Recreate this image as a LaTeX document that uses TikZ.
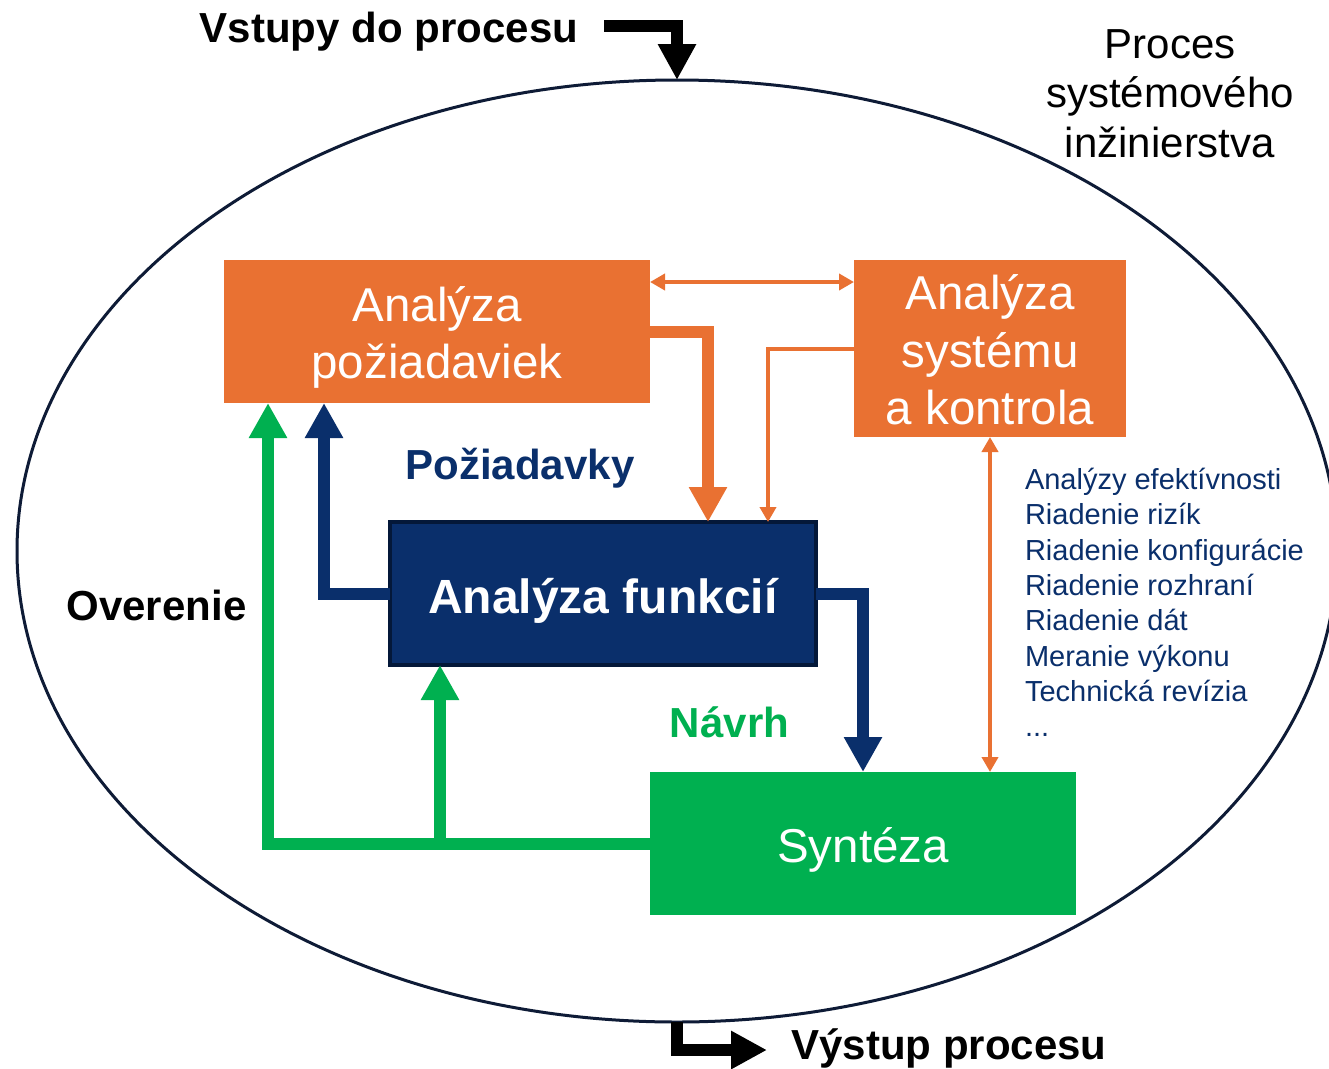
\documentclass[tikz,border=0pt]{standalone}
\usepackage{fontspec}
\setmainfont{Liberation Sans}
\usetikzlibrary{arrows.meta,shapes.geometric,calc}
\definecolor{orng}{HTML}{E97132}
\definecolor{grn}{HTML}{00B050}
\definecolor{navy}{HTML}{0A2F6B}
\definecolor{navyedge}{HTML}{041839}
\definecolor{ringc}{HTML}{0E1B36}
\tikzset{
  boxnode/.style={rectangle, inner sep=0pt, outer sep=0pt},
  boxtxt/.style={inner sep=0pt, outer sep=0pt, align=center, text=white,
    font=\fontsize{47.5}{57.5}\selectfont},
  lbl/.style={inner sep=0pt, outer sep=0pt, font=\fontsize{42}{50}\selectfont\bfseries},
  plain/.style={inner sep=0pt, outer sep=0pt, font=\fontsize{42}{50}\selectfont},
  listtxt/.style={inner sep=0pt, outer sep=0pt, text=navy, font=\fontsize{29}{35}\selectfont, anchor=base west},
  thickarr/.style={line width=12pt, -{Triangle[width=36pt,length=35pt]}},
  blackarr/.style={line width=12pt, black, -{Triangle[width=36pt,length=36pt]}},
  thinarr/.style={line width=4pt, orng, -{Triangle[width=16pt,length=15pt]}},
  dblarr/.style={line width=4pt, orng, {Triangle[width=16pt,length=15pt]}-{Triangle[width=16pt,length=15pt]}}
}
\begin{document}
\begin{tikzpicture}[x=1pt,y=-1pt]
\useasboundingbox (0,0) rectangle (1329,1068);
\fill[white] (0,0) rectangle (1329,1068);

% process ellipse
\node[ellipse, draw=ringc, line width=3pt, minimum width=1320pt, minimum height=942pt,
      inner sep=0pt, outer sep=0pt] (proc) at (677,551) {};

% boxes
\node[boxnode, fill=orng, minimum width=426pt, minimum height=143pt] (req) at (437,331.5) {};
\node[boxnode, fill=orng, minimum width=272pt, minimum height=177pt] (sys) at (990,348.5) {};
\node[boxnode, fill=navy, draw=navyedge, line width=4pt, minimum width=426pt, minimum height=143pt] (fun) at (603,593.5) {};
\node[boxnode, fill=grn, minimum width=426pt, minimum height=143pt] (syn) at (863,843.5) {};

\node[boxtxt] (reqT) at ([yshift=-6pt]req.center) {Analýza\\požiadaviek};
\node[boxtxt] (sysT) at ([yshift=-1.5pt]sys.center) {Analýza\\systému\\a kontrola};
\node[boxtxt, font=\fontsize{48}{57}\selectfont\bfseries] (funT) at ([yshift=-7pt]fun.center) {Analýza funkcií};
\node[boxtxt] (synT) at ([yshift=-6pt]syn.center) {Syntéza};

% input / output
\coordinate (inS) at (604,26);
\coordinate (outE) at (767,1050);
\draw[blackarr] (inS) -| (proc.north);
\draw[blackarr] (proc.south) |- (outE);

% orange connectors
\coordinate (dA) at ([yshift=49.5pt]req.east);
\draw[dblarr] (dA) -- (dA -| sys.west);
\draw[thickarr, orng] (req.east) -| ([xshift=105pt]fun.north);
\draw[thinarr] (sys.west) -| ([xshift=165pt]fun.north);
\draw[dblarr] (sys.south) -- (sys.south |- syn.north);

% navy connectors
\draw[thickarr, navy] (fun.west) -| ([xshift=-113pt]req.south);
\draw[thickarr, navy] (fun.east) -| (syn.north);

% green connectors
\draw[thickarr, grn] (syn.west) -| ([xshift=-169pt]req.south);
\coordinate (fS) at ([xshift=-163pt]fun.south);
\draw[thickarr, grn] (fS |- syn.west) -- (fS);

% labels
\node[lbl, anchor=base] (inL) at (389,42) {Vstupy do procesu};
\node[lbl, anchor=base] (outL) at (949,1059) {Výstup procesu};
\node[lbl, anchor=base] (ovL) at (156.5,620) {Overenie};
\node[lbl, anchor=base, text=navy] (pozL) at (520,479) {Požiadavky};
\node[lbl, anchor=base, text=grn] (navL) at (729.5,737) {Návrh};

\node[plain, anchor=base] (t1) at (1170,58) {Proces};
\node[plain, anchor=base] (t2) at (1170,107.5) {systémového};
\node[plain, anchor=base] (t3) at (1170,157) {inžinierstva};

\node[listtxt] (l1) at (1025,489.5) {Analýzy efektívnosti};
\node[listtxt] (l2) at (1025,524.8) {Riadenie rizík};
\node[listtxt] (l3) at (1025,560.1) {Riadenie konfigurácie};
\node[listtxt] (l4) at (1025,595.4) {Riadenie rozhraní};
\node[listtxt] (l5) at (1025,630.7) {Riadenie dát};
\node[listtxt] (l6) at (1025,666.0) {Meranie výkonu};
\node[listtxt] (l7) at (1025,701.3) {Technická revízia};
\node[listtxt] (l8) at (1025,736.6) {...};
\end{tikzpicture}
\end{document}
